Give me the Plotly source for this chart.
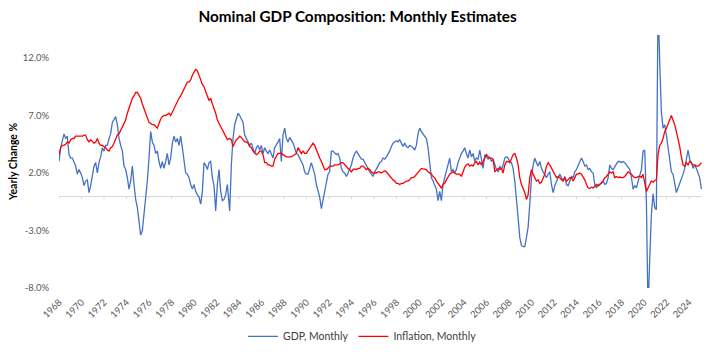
import plotly.graph_objects as go

STEP = 0.14815
seg_start = [1968.0, 1983.17, 2004.51, 2019.91]

gdp_1968 = [3.0, 4.2, 4.8, 5.4, 5.0, 5.2, 3.6, 3.3, 3.3, 2.9,
            2.6, 1.9, 2.3, 2.0, 1.6, 0.9, 1.3, 1.4, 0.3, 0.9,
            1.6, 2.6, 2.9, 2.0, 2.9, 3.4, 4.2, 3.9, 4.4, 4.4,
            5.0, 5.4, 6.4, 6.7, 6.9, 6.2, 5.0, 4.4, 3.9, 2.6,
            2.3, 1.6, 0.6, 1.3, 2.6, 1.0, -0.3, -1.0, -2.1, -3.4,
            -3.0, -1.6, -0.1, 1.3, 3.3, 5.6, 4.7, 4.4, 3.7, 3.9,
            3.0, 2.4, 3.0, 2.4, 3.0, 3.7, 2.7, 3.3, 4.6, 5.2,
            4.7, 5.0, 4.4, 5.2, 4.2, 3.0, 2.0, 1.9, 1.6, 1.0,
            0.6, 1.0, 0.4, 0.1, -0.1, -0.7, 0.4, 2.9, 2.7, 2.3,
            2.9, 3.0, 1.6, 0.9, -1.3, 1.0, 2.3, 0.4, -0.4, -0.3,
            0.1, 1.0]
gdp_1983 = [-1.3, 2.7, 5.0, 6.2, 6.7, 7.2, 7.0, 6.7, 6.4, 5.3,
            5.0, 4.7, 4.4, 4.6, 4.2, 3.7, 4.2, 4.4, 4.0, 4.4,
            3.7, 4.2, 3.9, 3.7, 4.0, 3.7, 3.3, 4.2, 4.4, 4.7,
            5.0, 3.0, 5.3, 5.9, 5.0, 4.7, 5.1, 4.9, 4.6, 4.2,
            3.7, 3.6, 3.3, 2.9, 2.7, 2.1, 1.9, 1.9, 2.4, 2.9,
            2.4, 1.9, 1.0, 0.4, -0.1, -1.1, -0.4, 0.4, 1.3, 1.9,
            2.1, 3.9, 3.9, 3.7, 3.6, 3.7, 3.3, 2.4, 2.1, 2.0,
            1.7, 2.0, 2.3, 2.7, 3.3, 3.7, 3.9, 3.7, 3.4, 3.2,
            3.2, 2.9, 2.6, 2.3, 2.1, 1.9, 1.7, 2.1, 2.3, 2.6,
            2.9, 3.0, 3.3, 3.2, 3.4, 3.6, 3.9, 4.3, 4.6, 4.7,
            4.8, 4.7, 4.9, 4.6, 4.3, 4.6, 4.3, 4.2, 4.4, 4.3,
            4.2, 4.0, 4.4, 5.4, 5.9, 5.6, 5.4, 5.3, 5.0, 4.2,
            3.0, 1.6, 1.3, 1.0, 0.6, -0.4, 0.4, -0.4, 1.0, 1.6,
            2.1, 2.7, 3.3, 2.1, 2.3, 2.0, 2.3, 2.9, 3.3, 3.7,
            3.9, 4.2, 3.7, 3.3]
gdp_2004 = [4.0, 3.4, 3.7, 3.0, 3.3, 3.2, 4.0, 3.2, 2.4, 3.6,
            3.4, 3.2, 3.4, 3.0, 3.2, 2.7, 2.3, 2.1, 2.6, 2.3,
            2.7, 3.3, 3.4, 3.3, 3.0, 2.9, 2.4, 1.3, -0.1, -1.9,
            -3.6, -4.3, -4.4, -4.4, -3.6, -2.7, -0.7, 1.6, 2.7, 3.3,
            2.9, 2.6, 3.0, 2.4, 2.1, 1.9, 1.6, 1.9, 2.1, 1.0,
            0.3, 0.9, 1.3, 1.6, 1.9, 1.6, 1.3, 1.7, 1.0, 0.9,
            1.3, 1.7, 1.6, 2.1, 2.3, 2.6, 2.9, 3.3, 3.0, 2.6,
            2.7, 2.3, 2.4, 2.1, 2.0, 1.0, 0.7, 1.0, 1.0, 1.1,
            1.3, 1.0, 1.1, 1.6, 2.7, 2.4, 2.3, 2.6, 2.8, 3.0,
            3.0, 2.9, 3.0, 2.9, 2.7, 2.4, 2.3, 1.6, 0.6, 0.9,
            0.7, 1.3, 1.9, 2.3]
gdp_2020 = [3.9, 4.0, -0.4, -10.0, -5.5, -1.6, 0.2, -1.0, -1.2, 17.0,
            11.6, 7.3, 5.9, 6.2, 5.3, 4.3, 3.0, 2.1, 1.9, 1.0,
            0.3, 0.7, 1.1, 1.4, 1.9, 2.4, 3.2, 4.0, 3.2, 2.9,
            2.4, 2.7, 2.4, 1.9, 1.6, 0.6]

infl_1968 = [3.6, 4.2, 4.4, 4.4, 4.5, 4.7, 4.6, 4.9, 5.0, 5.0,
             5.2, 5.2, 5.2, 5.2, 5.2, 5.3, 5.3, 4.9, 4.7, 4.9,
             4.7, 4.6, 4.7, 5.0, 4.6, 4.4, 4.4, 4.3, 4.2, 4.0,
             3.9, 4.2, 4.3, 4.6, 5.0, 5.3, 5.4, 5.7, 6.0, 6.2,
             6.6, 7.2, 7.7, 8.0, 8.5, 8.7, 9.0, 9.0, 8.7, 8.5,
             8.0, 7.6, 7.2, 6.7, 6.4, 6.3, 6.2, 6.2, 6.0, 5.9,
             6.3, 6.7, 6.9, 7.0, 7.0, 7.1, 7.2, 7.0, 7.3, 7.7,
             8.0, 8.3, 8.5, 8.7, 9.0, 9.3, 9.6, 9.9, 9.9, 10.1,
             10.5, 10.7, 11.0, 10.9, 10.5, 10.0, 9.7, 9.5, 9.0, 8.7,
             8.3, 8.5, 8.0, 7.6, 7.2, 6.6, 6.3, 6.1, 5.8, 5.4,
             5.2, 4.9]
infl_1983 = [5.0, 4.9, 4.3, 4.6, 4.9, 5.0, 5.2, 5.1, 4.9, 4.7,
             4.7, 4.6, 4.3, 4.2, 3.9, 3.7, 3.6, 3.7, 3.9, 3.9,
             3.6, 2.9, 2.9, 2.7, 2.7, 2.6, 2.6, 3.2, 3.4, 3.7,
             3.7, 3.7, 3.6, 3.5, 3.4, 3.4, 3.4, 3.4, 3.5, 3.6,
             3.7, 4.2, 4.0, 3.7, 3.9, 3.7, 3.7, 3.9, 4.2, 4.4,
             4.6, 4.4, 4.0, 3.6, 3.3, 3.0, 2.6, 2.3, 2.3, 2.4,
             2.6, 2.6, 2.6, 2.7, 2.7, 2.7, 2.8, 2.9, 2.9, 2.7,
             2.6, 2.4, 2.3, 2.1, 2.3, 2.35, 2.3, 2.4, 2.4, 2.6,
             2.6, 2.4, 2.3, 2.4, 2.3, 2.1, 2.0, 2.0, 2.0, 2.1,
             2.1, 2.0, 2.1, 2.2, 2.1, 1.9, 1.7, 1.6, 1.4, 1.3,
             1.1, 1.1, 1.0, 1.1, 1.1, 1.2, 1.3, 1.3, 1.4, 1.6,
             1.6, 1.7, 1.9, 2.0, 2.3, 2.4, 2.35, 2.3, 2.3, 2.1,
             2.0, 1.9, 1.7, 1.6, 1.3, 1.1, 0.8, 0.7, 1.0, 1.1,
             1.4, 1.7, 1.9, 2.0, 2.1, 2.0, 1.9, 1.9, 1.9, 1.7,
             2.1, 2.5, 2.7, 2.8]
infl_2004 = [2.6, 2.7, 2.6, 2.9, 3.0, 2.7, 2.95, 2.7, 3.0, 3.3,
             3.6, 3.4, 3.3, 3.3, 3.2, 2.1, 2.3, 2.4, 2.3, 2.4,
             2.0, 2.7, 3.0, 3.0, 2.9, 3.2, 3.6, 3.7, 3.3, 2.7,
             1.6, 1.0, 0.7, 0.3, -0.3, 0.1, 1.6, 2.3, 1.9, 1.6,
             1.3, 1.4, 1.1, 1.2, 1.6, 1.9, 2.6, 2.9, 2.7, 2.4,
             2.1, 1.9, 1.6, 1.7, 1.6, 1.4, 1.3, 1.6, 1.3, 1.4,
             1.6, 1.6, 1.3, 1.6, 1.9, 1.9, 2.0, 1.9, 1.7, 1.4,
             1.0, 0.7, 0.66, 0.77, 0.7, 0.86, 1.0, 0.86, 1.0, 1.1,
             1.3, 1.6, 1.7, 1.9, 2.1, 2.0, 2.1, 1.6, 1.7, 1.6,
             1.65, 1.6, 1.6, 1.7, 1.9, 2.1, 2.0, 1.9, 1.7, 1.6,
             1.6, 1.7, 1.7, 1.6]
infl_2020 = [1.9, 1.0, 0.4, 0.7, 1.0, 1.3, 1.2, 1.35, 1.4, 3.6,
             4.4, 4.6, 5.0, 5.6, 5.9, 6.3, 6.7, 7.0, 6.6, 6.2,
             5.6, 5.0, 4.3, 3.4, 2.7, 2.6, 2.9, 2.7, 3.0, 2.9,
             2.7, 2.7, 2.6, 2.6, 2.7, 2.9]

year_ticks = [1968, 1970, 1972, 1974, 1976, 1978, 1980, 1982, 1984, 1986,
              1988, 1990, 1992, 1994, 1996, 1998, 2000, 2002, 2004, 2006,
              2008, 2010, 2012, 2014, 2016, 2018, 2020, 2022, 2024]
y_ticks = [-8, -3, 2, 7, 12]
y_tick_labels = ["-8.0%", "-3.0%", "2.0%", "7.0%", "12.0%"]


def build(segments):
    xs, ys = [], []
    for start, vals in zip(seg_start, segments):
        xs += [start + i * STEP for i in range(len(vals))]
        ys += vals
    return xs, ys


gx, gy = build([gdp_1968, gdp_1983, gdp_2004, gdp_2020])
ix, iy = build([infl_1968, infl_1983, infl_2004, infl_2020])

fig = go.Figure()
fig.add_trace(go.Scatter(x=gx, y=gy, mode="lines", name="GDP, Monthly",
                         line=dict(color="#4472C4", width=1.3)))
fig.add_trace(go.Scatter(x=ix, y=iy, mode="lines", name="Inflation, Monthly",
                         line=dict(color="#FF0000", width=1.3)))

# small category tick marks on the zero axis line
for yr in year_ticks:
    fig.add_shape(type="line", xref="x", yref="y", x0=yr, x1=yr, y0=0, y1=-0.28,
                  line=dict(color="#d9d9d9", width=1), layer="below")

fig.update_layout(
    template="none",
    width=704, height=353,
    margin=dict(l=59, r=2, t=35, b=62, pad=0),
    paper_bgcolor="white", plot_bgcolor="white",
    font=dict(family="Lato, 'Open Sans', sans-serif", size=10, color="#595959"),
    title=dict(text="Nominal GDP Composition: Monthly Estimates",
               font=dict(family="Lato, sans-serif", size=15.3, color="#000000", weight="bold"),
               x=0.508, xref="container", xanchor="center",
               y=1 - 17 / 353, yref="container", yanchor="middle"),
    showlegend=True,
    legend=dict(orientation="h", x=0.472, xanchor="center", y=-0.191, yanchor="middle",
                font=dict(size=10.5, color="#404040"), itemwidth=30,
                bgcolor="rgba(0,0,0,0)"),
    xaxis=dict(range=[1968, 2025.15], tickmode="array", tickvals=year_ticks,
               ticktext=[str(y) for y in year_ticks], tickangle=-45,
               showgrid=False, zeroline=False, showline=False,
               ticks="outside", ticklen=4, tickcolor="rgba(0,0,0,0)",
               automargin=False, tickfont=dict(size=9.5, color="#595959")),
    yaxis=dict(range=[-8, 14], tickmode="array", tickvals=y_ticks, ticktext=y_tick_labels,
               showgrid=False, zeroline=True, zerolinecolor="#d9d9d9", zerolinewidth=1,
               showline=False, ticks="outside", ticklen=7, tickcolor="rgba(0,0,0,0)",
               automargin=False, tickfont=dict(size=9.5, color="#595959"),
               title=dict(text="Yearly Change %", standoff=3,
                          font=dict(size=10.5, color="#000000", weight="bold"))),
)

fig.write_html("out.html")
